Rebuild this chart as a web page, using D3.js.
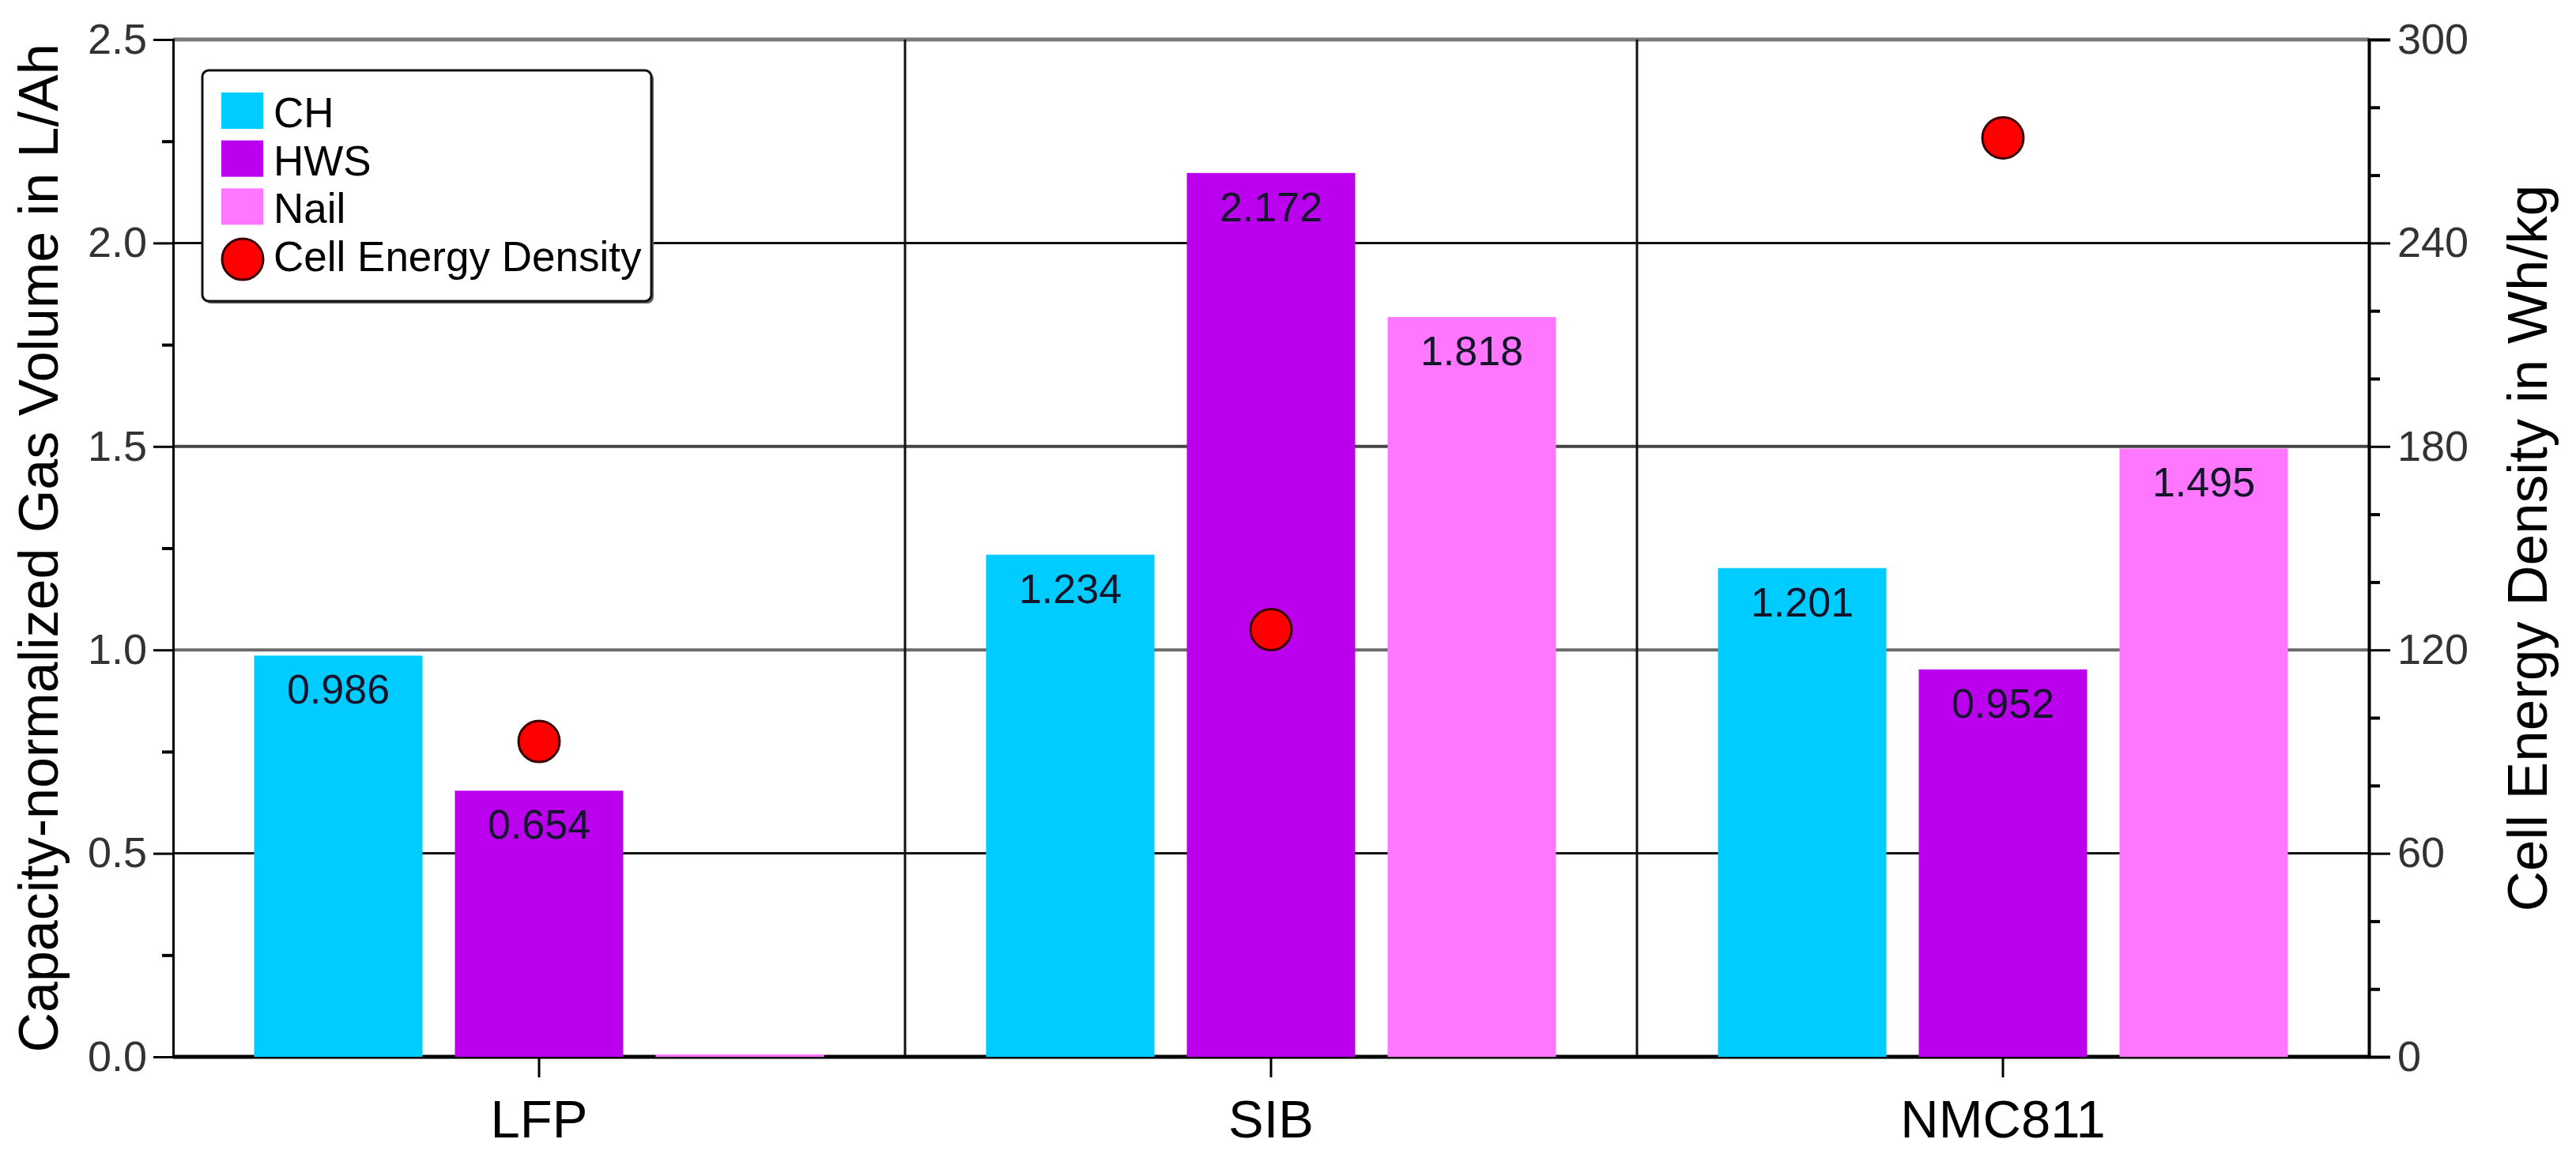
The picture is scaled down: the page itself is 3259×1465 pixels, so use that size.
<!DOCTYPE html>
<html>
<head>
<meta charset="utf-8">
<script src="https://cdn.jsdelivr.net/npm/d3@7"></script>
<style>
  html, body { margin: 0; padding: 0; background: #fff; }
  svg { display: block; font-family: "Liberation Sans", Arial, sans-serif; }
</style>
</head>
<body>
<svg id="chart" width="3259" height="1465"></svg>
<script>
// ---------------- data ----------------
const categories = ["LFP", "SIB", "NMC811"];
const series = ["CH", "HWS", "Nail"];
const chValues = [0.986, 1.234, 1.201];
const hwsValues = [0.654, 2.172, 0.952];
const nailValues = [0.006, 1.818, 1.495];
const barLabels = [
  ["0.986", "0.654", null],
  ["1.234", "2.172", "1.818"],
  ["1.201", "0.952", "1.495"]
];
const energyDensity = [93, 126, 271];   // Wh/kg, right axis
const leftTicks = [0, 0.5, 1.0, 1.5, 2.0, 2.5];
const leftMinorTicks = [0.25, 0.75, 1.25, 1.75, 2.25];
const rightTicks = [0, 60, 120, 180, 240, 300];
const rightMinorTicks = [20, 40, 80, 100, 140, 160, 200, 220, 260, 280];
const colors = { CH: "#00CCFF", HWS: "#BB00EE", Nail: "#FF77FF" };
const leftTitle = "Capacity-normalized Gas Volume in L/Ah";
const rightTitle = "Cell Energy Density in Wh/kg";
const legendItems = ["CH", "HWS", "Nail", "Cell Energy Density"];

// ---------------- layout ----------------
const svg = d3.select("#chart");
const L = 219, R = 2997, T = 50, B = 1337;

const x0 = d3.scaleBand().domain(categories).range([L, R]).paddingInner(0).paddingOuter(0);
const bw = x0.bandwidth();
const x1 = d3.scaleBand().domain(series).range([102.5, bw - 102.5]).paddingInner(0.1614).paddingOuter(0);
const y = d3.scaleLinear().domain([0, 2.5]).range([B, T]);
const y2 = d3.scaleLinear().domain([0, 300]).range([B, T]);

svg.append("rect").attr("width", 3259).attr("height", 1465).attr("fill", "#fff");

// grid lines (horizontal)
const gridColor = { 0.5: "#111", 1.0: "#6a6a6a", 1.5: "#444", 2.0: "#111", 2.5: "#7a7a7a" };
svg.append("g").selectAll("line")
  .data(leftTicks.filter(d => d > 0))
  .join("line")
  .attr("x1", L).attr("x2", R)
  .attr("y1", d => y(d)).attr("y2", d => y(d))
  .attr("stroke", d => gridColor[d] || "#333")
  .attr("stroke-width", d => (d === 2.5 ? 5 : (d === 1.0 || d === 1.5 ? 4 : 3)));

// vertical dividers between categories
svg.append("g").selectAll("line")
  .data(categories.slice(1))
  .join("line")
  .attr("x1", d => x0(d)).attr("x2", d => x0(d))
  .attr("y1", y(0)).attr("y2", y(2.5))
  .attr("stroke", "#111").attr("stroke-width", 3);

// bottom axis line (drawn beneath bars)
svg.append("line")
  .attr("x1", L).attr("x2", R).attr("y1", y(0)).attr("y2", y(0))
  .attr("stroke", "#000").attr("stroke-width", 5);

// bars
const valuesBySeries = { CH: chValues, HWS: hwsValues, Nail: nailValues };
const barData = [];
categories.forEach((c, ci) => {
  series.forEach((s, si) => {
    barData.push({ cat: c, ser: s, v: valuesBySeries[s][ci], label: barLabels[ci][si] });
  });
});

const bars = svg.append("g");
bars.selectAll("rect")
  .data(barData)
  .join("rect")
  .attr("x", d => x0(d.cat) + x1(d.ser))
  .attr("y", d => y(d.v))
  .attr("width", x1.bandwidth())
  .attr("height", d => y(0) - y(d.v))
  .attr("fill", d => colors[d.ser]);

bars.selectAll("text")
  .data(barData.filter(d => d.label))
  .join("text")
  .attr("x", d => x0(d.cat) + x1(d.ser) + x1.bandwidth() / 2)
  .attr("y", d => y(d.v) + 61)
  .attr("text-anchor", "middle")
  .attr("font-size", 52)
  .attr("fill", "#14142a")
  .text(d => d.label);

// energy density dots (centred on HWS bar)
svg.append("g").selectAll("circle")
  .data(categories.map((c, i) => ({ cat: c, v: energyDensity[i] })))
  .join("circle")
  .attr("cx", d => x0(d.cat) + x1("HWS") + x1.bandwidth() / 2)
  .attr("cy", d => y2(d.v))
  .attr("r", 26)
  .attr("fill", "#FF0000")
  .attr("stroke", "#3a0000")
  .attr("stroke-width", 3);

// ---------------- axes ----------------
function styleAxis(g, fs, col) {
  g.selectAll("text").attr("font-size", fs).attr("fill", col).attr("font-family", '"Liberation Sans", Arial, sans-serif');
  g.selectAll(".tick line").attr("stroke", "#000").attr("stroke-width", 3);
}

// left axis
const gl = svg.append("g").attr("transform", `translate(${L},0)`)
  .call(d3.axisLeft(y).tickValues(leftTicks).tickFormat(d3.format(".1f")).tickSize(25).tickPadding(8));
gl.select(".domain").attr("stroke", "#000").attr("stroke-width", 3);
styleAxis(gl, 54, "#333");
const glm = svg.append("g").attr("transform", `translate(${L},0)`)
  .call(d3.axisLeft(y).tickValues(leftMinorTicks).tickFormat("").tickSize(14));
glm.select(".domain").remove();
glm.selectAll(".tick line").attr("stroke", "#000").attr("stroke-width", 4);

// right axis
const gr = svg.append("g").attr("transform", `translate(${R},0)`)
  .call(d3.axisRight(y2).tickValues(rightTicks).tickFormat(d3.format("d")).tickSize(27).tickPadding(9));
gr.select(".domain").attr("stroke", "#000").attr("stroke-width", 4);
styleAxis(gr, 54, "#333");
const grm = svg.append("g").attr("transform", `translate(${R},0)`)
  .call(d3.axisRight(y2).tickValues(rightMinorTicks).tickFormat("").tickSize(14));
grm.select(".domain").remove();
grm.selectAll(".tick line").attr("stroke", "#000").attr("stroke-width", 4);

// bottom axis
const gb = svg.append("g").attr("transform", `translate(0,${B})`)
  .call(d3.axisBottom(x0).tickSize(26).tickPadding(28));
gb.select(".domain").remove();
styleAxis(gb, 67, "#000");

// axis titles
svg.append("text")
  .attr("transform", `translate(73,${(T + B) / 2}) rotate(-90)`)
  .attr("text-anchor", "middle")
  .attr("font-size", 70)
  .attr("fill", "#000")
  .text(leftTitle);

svg.append("text")
  .attr("transform", `translate(3222,${(T + B) / 2}) rotate(-90)`)
  .attr("text-anchor", "middle")
  .attr("font-size", 71)
  .attr("fill", "#000")
  .text(rightTitle);

// ---------------- legend ----------------
const lg = svg.append("g");
lg.append("rect").attr("x", 259).attr("y", 92).attr("width", 568).attr("height", 292).attr("rx", 8)
  .attr("fill", "#666");
lg.append("rect").attr("x", 256).attr("y", 89).attr("width", 568).attr("height", 292).attr("rx", 8)
  .attr("fill", "#fff").attr("stroke", "#111").attr("stroke-width", 3);

const rowY = d3.scalePoint().domain(legendItems).range([140, 322]);
legendItems.forEach((name, i) => {
  const cy = rowY(name);
  if (colors[name]) {
    lg.append("rect").attr("x", 280).attr("y", cy - 23).attr("width", 53).attr("height", 46)
      .attr("fill", colors[name]);
  } else {
    lg.append("circle").attr("cx", 307).attr("cy", cy + 6).attr("r", 26)
      .attr("fill", "#FF0000").attr("stroke", "#3a0000").attr("stroke-width", 3);
  }
  lg.append("text").attr("x", 346).attr("y", cy + 21)
    .attr("font-size", 53).attr("fill", "#000").text(name);
});
</script>
</body>
</html>
